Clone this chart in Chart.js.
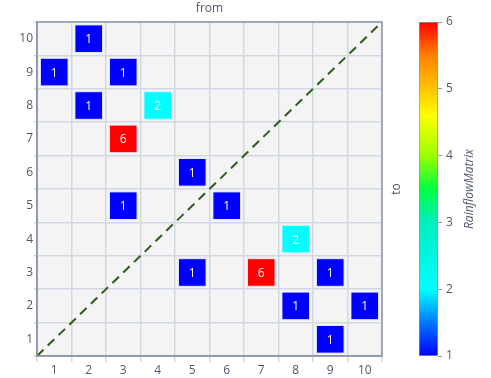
<!DOCTYPE html>
<html>
<head>
<meta charset="utf-8">
<script src="https://cdn.jsdelivr.net/npm/chart.js@4/dist/chart.umd.min.js"></script>
<style>
  body{margin:0;background:#fff}
  #main{position:absolute;left:0;top:0}
  #bar{position:absolute;left:410px;top:0}
</style>
</head>
<body>
<canvas id="main" width="410" height="378"></canvas>
<canvas id="bar" width="81" height="378"></canvas>
<script>
// rainflow cells: from (x), to (y), count
var fromVals = [2, 1, 3, 2, 4, 3, 5, 3, 6, 8, 5, 7, 9, 8, 10, 9]
var toVals   = [10, 9, 9, 8, 8, 7, 6, 5, 5, 4, 3, 3, 3, 2, 2, 1]
var counts   = [1, 1, 1, 1, 2, 6, 1, 1, 1, 2, 1, 6, 1, 1, 1, 1]
var xTicks = [1, 2, 3, 4, 5, 6, 7, 8, 9, 10]
var yTicks = [1, 2, 3, 4, 5, 6, 7, 8, 9, 10]
var cbTicks = [1, 2, 3, 4, 5, 6]
var diagX = [0.5, 10.5]
var diagY = [0.5, 10.5]

var txt = '#4f586a'
var fnt = {family: "'Open Sans', sans-serif", size: 12}

// jet-like colour map, value -> colour
var stops = [
  [1, '#0000ff'], [1.5, '#0078ff'], [2, '#00ffff'], [2.5, '#00f6e0'],
  [3, '#00efbe'], [3.5, '#00ff40'], [4, '#9cff00'], [4.6, '#ffff00'],
  [5, '#ffc400'], [5.5, '#ff8000'], [6, '#ff0000']
]
function hex(c){ return [parseInt(c.substr(1,2),16), parseInt(c.substr(3,2),16), parseInt(c.substr(5,2),16)] }
function cmap(v){
  for (var i=1;i<stops.length;i++){
    if (v<=stops[i][0]){
      var a=stops[i-1], b=stops[i]
      var t=(v-a[0])/(b[0]-a[0])
      var ca=hex(a[1]), cb=hex(b[1])
      return 'rgb('+Math.round(ca[0]+(cb[0]-ca[0])*t)+','+Math.round(ca[1]+(cb[1]-ca[1])*t)+','+Math.round(ca[2]+(cb[2]-ca[2])*t)+')'
    }
  }
  return stops[stops.length-1][1]
}

var cells=[]
for (var i=0;i<fromVals.length;i++){
  cells.push({x: fromVals[i], y: toVals[i], v: counts[i]})
}
var diag=[]
for (var j=0;j<diagX.length;j++){
  diag.push({x: diagX[j], y: diagY[j]})
}

var frame = {
  id: 'frame',
  beforeDraw: function(chart){
    var a=chart.chartArea, c=chart.ctx
    c.save()
    c.fillStyle='#f4f4f4'
    c.fillRect(a.left, a.top, a.right-a.left, a.bottom-a.top)
    c.restore()
  },
  afterDatasetsDraw: function(chart){
    var c=chart.ctx, a=chart.chartArea
    var meta=chart.getDatasetMeta(0)
    c.save()
    c.fillStyle='#fff'
    c.font="12px 'Open Sans', sans-serif"
    c.textAlign='center'
    c.textBaseline='middle'
    meta.data.forEach(function(p, k){
      c.fillText(String(cells[k].v), p.x, p.y+1)
    })
    c.strokeStyle='#8d97a6'
    c.lineWidth=1.5
    c.strokeRect(a.left, a.top, a.right-a.left, a.bottom-a.top)
    c.fillStyle=txt
    c.fillText('from', (a.left+a.right)/2, 9)
    c.translate(a.right+15, (a.top+a.bottom)/2)
    c.rotate(-Math.PI/2)
    c.fillText('to', 0, 0)
    c.restore()
  }
}

new Chart(document.getElementById('main'), {
  type: 'scatter',
  data: {
    datasets: [{
      data: cells,
      pointStyle: 'rect',
      pointRadius: 19.5,
      pointHoverRadius: 19.5,
      backgroundColor: function(ctx){ return ctx.raw ? cmap(ctx.raw.v) : '#00f' },
      borderColor: 'rgba(235,240,255,0.9)',
      borderWidth: 1,
      order: 1
    },{
      type: 'line',
      data: diag,
      borderColor: '#2f5a1e',
      borderWidth: 2,
      borderDash: [9, 6],
      pointRadius: 0,
      fill: false,
      order: 2
    }]
  },
  options: {
    responsive: false,
    animation: false,
    layout: {padding: {left: 0, right: 28, top: 22, bottom: 0}},
    plugins: {legend: {display: false}, tooltip: {enabled: false}},
    scales: {
      x: {
        type: 'linear', min: 0.5, max: 10.5,
        afterBuildTicks: function(s){ s.ticks = xTicks.map(function(v){ return {value: v} }) },
        afterFit: function(s){ s.height = 22 },
        grid: {offset: true, color: '#d2d8e1', lineWidth: 1.5, tickLength: 6},
        border: {color: '#8d97a6', width: 1.5},
        ticks: {color: txt, font: fnt, padding: 1, autoSkip: false, maxRotation: 0}
      },
      y: {
        type: 'linear', min: 0.5, max: 10.5,
        afterBuildTicks: function(s){ s.ticks = yTicks.map(function(v){ return {value: v} }) },
        afterFit: function(s){ s.width = 37 },
        grid: {offset: true, color: '#d2d8e1', lineWidth: 1.5, tickLength: 3},
        border: {color: '#8d97a6', width: 1.5},
        ticks: {color: txt, font: fnt, padding: 1, autoSkip: false}
      }
    }
  },
  plugins: [frame]
})

var cbTitle = {
  id: 'cbTitle',
  afterDraw: function(chart){
    var c=chart.ctx, a=chart.chartArea
    c.save()
    c.fillStyle=txt
    c.font="italic 12px 'Open Sans', sans-serif"
    c.textAlign='center'
    c.textBaseline='middle'
    c.translate(60, (a.top+a.bottom)/2)
    c.rotate(-Math.PI/2)
    c.fillText('RainflowMatrix', 0, 0)
    c.restore()
  }
}

new Chart(document.getElementById('bar'), {
  type: 'bar',
  data: {
    labels: [''],
    datasets: [{
      data: [[cbTicks[0], cbTicks[cbTicks.length-1]]],
      barPercentage: 1,
      categoryPercentage: 1,
      borderColor: '#8d97a6',
      borderWidth: 1,
      borderSkipped: false,
      backgroundColor: function(ctx){
        var a=ctx.chart.chartArea
        if (!a) return '#00f'
        var g=ctx.chart.ctx.createLinearGradient(0, a.bottom, 0, a.top)
        stops.forEach(function(s){ g.addColorStop((s[0]-1)/5, s[1]) })
        return g
      }
    }]
  },
  options: {
    responsive: false,
    animation: false,
    layout: {padding: {left: 9, top: 22, bottom: 22, right: 0}},
    plugins: {legend: {display: false}, tooltip: {enabled: false}},
    scales: {
      x: {display: false},
      y: {
        position: 'right', min: 1, max: 6,
        afterBuildTicks: function(s){ s.ticks = cbTicks.map(function(v){ return {value: v} }) },
        afterFit: function(s){ s.width = 53 },
        grid: {drawOnChartArea: false, color: '#8d97a6', tickLength: 4},
        border: {display: false},
        ticks: {color: txt, font: fnt, padding: 4}
      }
    }
  },
  plugins: [cbTitle]
})
</script>
</body>
</html>
